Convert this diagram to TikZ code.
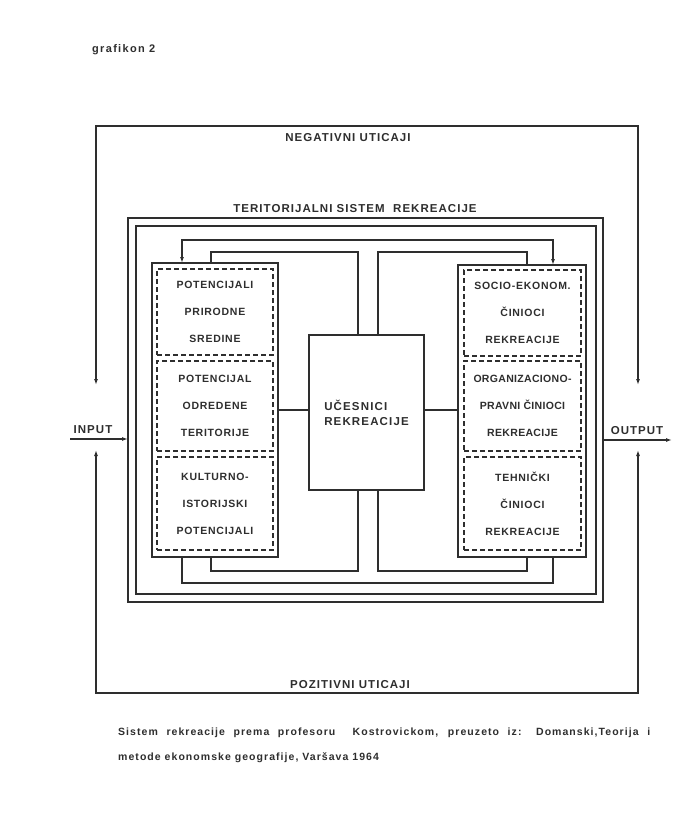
\documentclass[tikz,border=0pt]{standalone}
\usepackage{fontspec}
\setmainfont{Liberation Sans}
\usetikzlibrary{arrows.meta}
\definecolor{ink}{HTML}{2E2E2E}
\begin{document}
\begin{tikzpicture}[x=1pt,y=-1pt,
  ln/.style={line width=1.5pt, draw=ink},
  solidbox/.style={ln, anchor=north west, inner sep=0pt, outer sep=0pt},
  dashbox/.style={draw=ink, line width=1.5pt, dash pattern=on 5pt off 3pt,
    anchor=north west, inner sep=0pt, outer sep=0pt, align=center, text=ink,
    font=\bfseries\fontsize{10.5}{27}\selectfont\addfontfeature{LetterSpace=7}},
  title/.style={text=ink, font=\bfseries\fontsize{11.5}{14}\selectfont\addfontfeature{LetterSpace=9}, inner sep=0pt},
  tip/.style={-{Latex[length=6pt,width=4pt]}},
  tips/.style={{Latex[length=6pt,width=4pt]}-{Latex[length=6pt,width=4pt]}}
]
\useasboundingbox[fill=white] (0,0) rectangle (679,840);

% heading
\node[text=ink, inner sep=0pt, anchor=west, font=\bfseries\fontsize{11}{13}\selectfont\addfontfeature{LetterSpace=12}] (head) at (92,50) {grafikon 2};

% outer frame (influences)
\coordinate (oTL) at (96,126);
\coordinate (oTR) at (638,126);
\coordinate (oBL) at (96,693);
\coordinate (oBR) at (638,693);
\coordinate (oLd) at (96,385);
\coordinate (oRd) at (638,385);
\coordinate (oLu) at (96,450);
\coordinate (oRu) at (638,450);
\draw[ln, tips] (oLd) -- (oTL) -- (oTR) -- (oRd);
\draw[ln, tips] (oLu) -- (oBL) -- (oBR) -- (oRu);
\node[title] (neg) at (348,138) {NEGATIVNI UTICAJI};
\node[title] (poz) at (350,685) {POZITIVNI UTICAJI};

% territorial system frame (double)
\node[solidbox, minimum width=475pt, minimum height=384pt] (tsro) at (128,218) {};
\node[solidbox, minimum width=460pt, minimum height=368pt] (tsri) at (136,226) {};
\node[title] (tsrt) at (355,209) {TERITORIJALNI SISTEM\ \ REKREACIJE};

% input / output
\coordinate (inS) at (70,439);
\coordinate (outE) at (672,440);
\draw[ln, tip] (inS) -- (inS -| tsro.west);
\draw[ln, tip] (outE -| tsro.east) -- (outE);
\node[title, anchor=south] (inl) at (93,434) {INPUT};
\node[title, anchor=south] (outl) at (637,435) {OUTPUT};

% left group
\node[solidbox, minimum width=126pt, minimum height=294pt] (L) at (152,263) {};
\node[dashbox, minimum width=116pt, minimum height=86pt] (L1) at (157,269) {POTENCIJALI\\PRIRODNE\\SREDINE};
\node[dashbox, minimum width=116pt, minimum height=90pt] (L2) at (157,361) {POTENCIJAL\\ODREDENE\\TERITORIJE};
\node[dashbox, minimum width=116pt, minimum height=93pt] (L3) at (157,457) {KULTURNO-\\ISTORIJSKI\\POTENCIJALI};

% right group
\node[solidbox, minimum width=128pt, minimum height=292pt] (R) at (458,265) {};
\node[dashbox, minimum width=117pt, minimum height=86pt] (R1) at (464,270) {SOCIO-EKONOM.\\ČINIOCI\\REKREACIJE};
\node[dashbox, minimum width=117pt, minimum height=90pt, font=\bfseries\fontsize{10.5}{27}\selectfont\addfontfeature{LetterSpace=3}] (R2) at (464,361) {ORGANIZACIONO-\\PRAVNI ČINIOCI\\REKREACIJE};
\node[dashbox, minimum width=117pt, minimum height=93pt] (R3) at (464,457) {TEHNIČKI\\ČINIOCI\\REKREACIJE};

% center
\node[solidbox, minimum width=115pt, minimum height=155pt] (C) at (309,335) {};
\node[text=ink, align=left, font=\bfseries\fontsize{11.5}{15}\selectfont\addfontfeature{LetterSpace=10}, inner sep=0pt] (Ct) at (C.center) {UČESNICI\\REKREACIJE};

% connection points
\coordinate (xLo) at (182,0);
\coordinate (xLi) at (211,0);
\coordinate (xCl) at (358,0);
\coordinate (xCr) at (378,0);
\coordinate (xRi) at (527,0);
\coordinate (xRo) at (553,0);
\coordinate (yTo) at (0,240);
\coordinate (yTi) at (0,252);
\coordinate (yBi) at (0,571);
\coordinate (yBo) at (0,583);
\coordinate (yM) at (0,410);

% top loops
\draw[ln, tips] (L.north -| xLo) -- (yTo -| xLo) -- (yTo -| xRo) -- (R.north -| xRo);
\draw[ln] (L.north -| xLi) -- (yTi -| xLi) -- (yTi -| xCl) -- (C.north -| xCl);
\draw[ln] (R.north -| xRi) -- (yTi -| xRi) -- (yTi -| xCr) -- (C.north -| xCr);
% bottom loops
\draw[ln] (L.south -| xLo) -- (yBo -| xLo) -- (yBo -| xRo) -- (R.south -| xRo);
\draw[ln] (L.south -| xLi) -- (yBi -| xLi) -- (yBi -| xCl) -- (C.south -| xCl);
\draw[ln] (R.south -| xRi) -- (yBi -| xRi) -- (yBi -| xCr) -- (C.south -| xCr);
% middle links
\draw[ln] (L.east |- yM) -- (C.west |- yM);
\draw[ln] (C.east |- yM) -- (R.west |- yM);

% caption
\node[anchor=north west, text=ink, align=left, inner sep=0pt,
  font=\bfseries\fontsize{10.5}{25}\selectfont\addfontfeature{LetterSpace=10}] (cap) at (118,728)
  {\makebox[532pt][s]{Sistem rekreacije prema profesoru\ \ Kostrovickom, preuzeto iz: Domanski,Teorija i}\\
   metode ekonomske geografije, Varšava 1964};
\end{tikzpicture}
\end{document}
